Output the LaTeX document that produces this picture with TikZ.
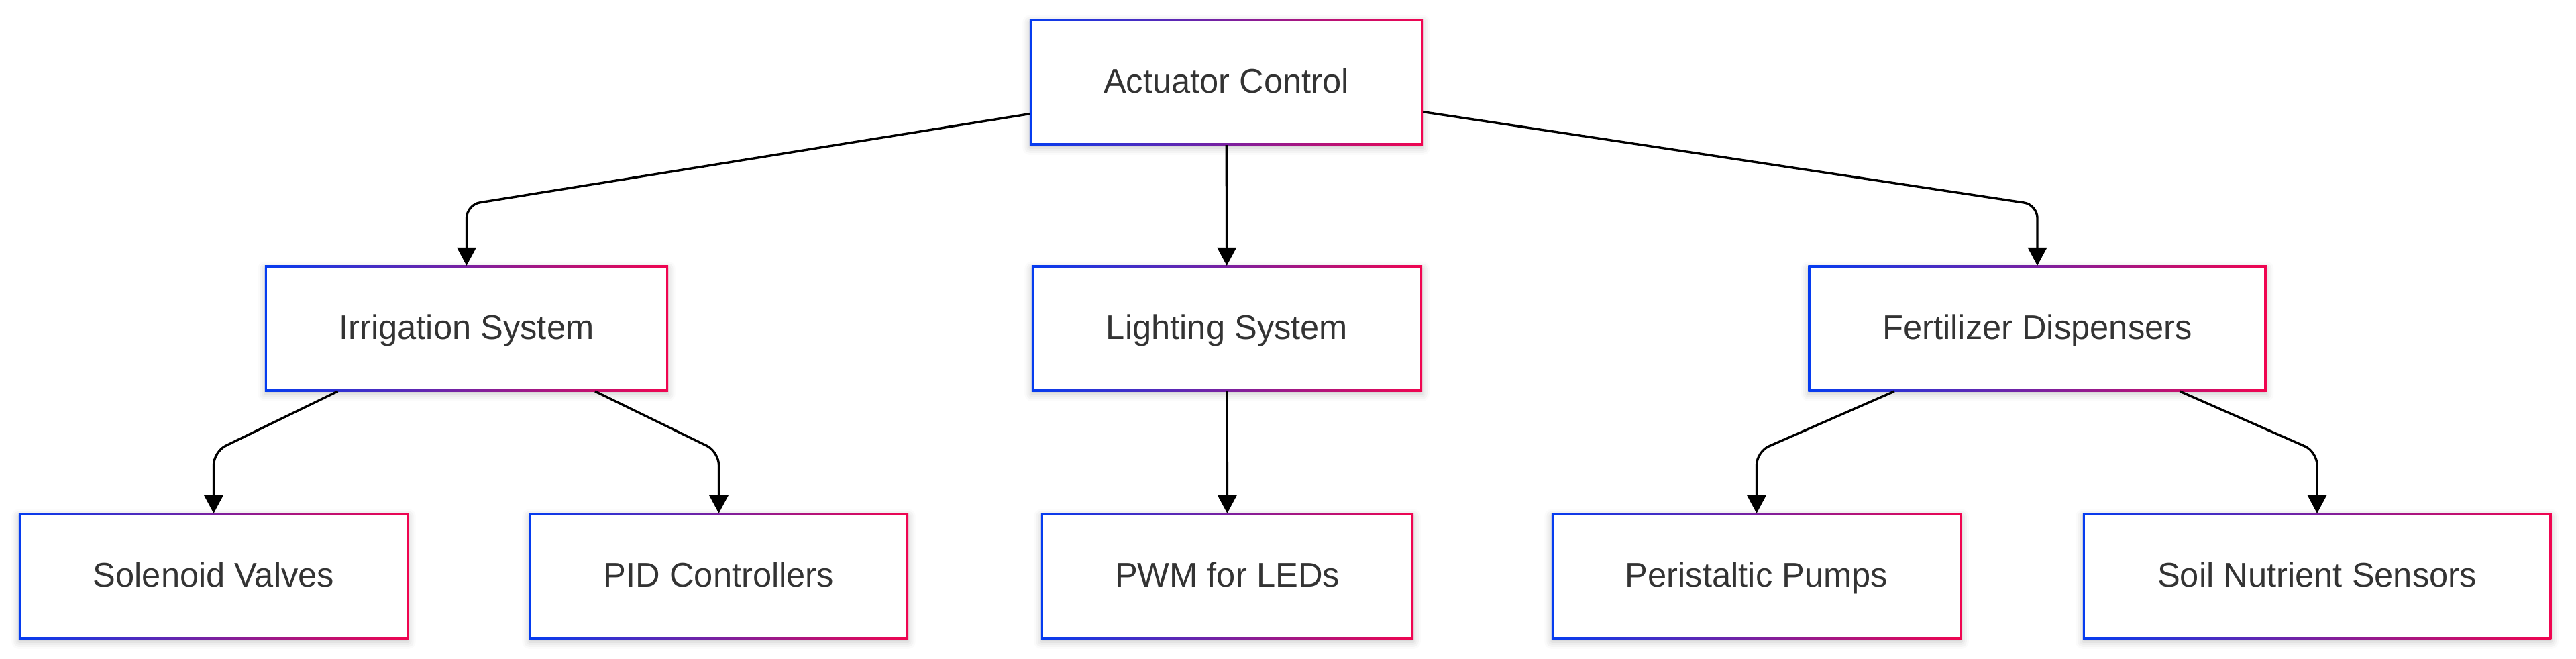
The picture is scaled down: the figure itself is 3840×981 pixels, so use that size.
\documentclass[tikz,border=0pt]{standalone}
\usepackage{fontspec}
\setmainfont{Liberation Sans}
\usetikzlibrary{arrows.meta,shadows.blur,calc}
\definecolor{bblue}{RGB}{5,60,240}
\definecolor{rred}{RGB}{240,5,80}
\definecolor{tgray}{RGB}{51,51,51}
\tikzset{
  box/.style={rectangle, inner sep=0pt, outer sep=0pt, minimum height=1.87cm,
    text height=0.37cm, text depth=0.06cm,
    left color=bblue, right color=rred, text=tgray,
    font=\fontsize{14.4}{17}\selectfont,
    blur shadow={shadow xshift=0pt, shadow yshift=-1.2pt, shadow blur radius=3pt, shadow opacity=22},
    path picture={\fill[white] ($(path picture bounding box.south west)+(0.033cm,0.033cm)$) rectangle ($(path picture bounding box.north east)-(0.033cm,0.033cm)$);}},
  arr/.style={-{Triangle[length=0.27cm,width=0.28cm]}, line width=0.034cm, black, rounded corners=0.2cm}
}
\begin{document}
\begin{tikzpicture}[x=0.01cm,y=-0.01cm]
\useasboundingbox (0,0) rectangle (3840,981);
\node[box, minimum width=5.86cm] (ac) at (1828,122.5) {Actuator Control};
\node[box, minimum width=6.01cm] (ir) at (695.5,489.5) {Irrigation System};
\node[box, minimum width=5.82cm] (li) at (1829,489.5) {Lighting System};
\node[box, minimum width=6.83cm] (fd) at (3037,489.5) {Fertilizer Dispensers};
\node[box, minimum width=5.81cm] (sv) at (318.5,858.5) {Solenoid Valves};
\node[box, minimum width=5.65cm] (pid) at (1071.5,858.5) {PID Controllers};
\node[box, minimum width=5.55cm] (pwm) at (1829.5,858.5) {PWM for LEDs};
\node[box, minimum width=6.11cm] (pp) at (2618.5,858.5) {Peristaltic Pumps};
\node[box, minimum width=6.98cm] (sn) at (3454,858.5) {Soil Nutrient Sensors};
\coordinate (c1) at (695.5,305);
\coordinate (c2) at (3037,305);
\coordinate (c3) at (318.5,673);
\coordinate (c4) at (1071.5,673);
\coordinate (c5) at (2618.5,673);
\coordinate (c6) at (3454,673);
\draw[arr] (ac) -- (c1) -- (ir);
\draw[arr] (ac) -- (li);
\draw[arr] (ac) -- (c2) -- (fd);
\draw[arr] (ir) -- (c3) -- (sv);
\draw[arr] (ir) -- (c4) -- (pid);
\draw[arr] (li) -- (pwm);
\draw[arr] (fd) -- (c5) -- (pp);
\draw[arr] (fd) -- (c6) -- (sn);
\end{tikzpicture}
\end{document}
